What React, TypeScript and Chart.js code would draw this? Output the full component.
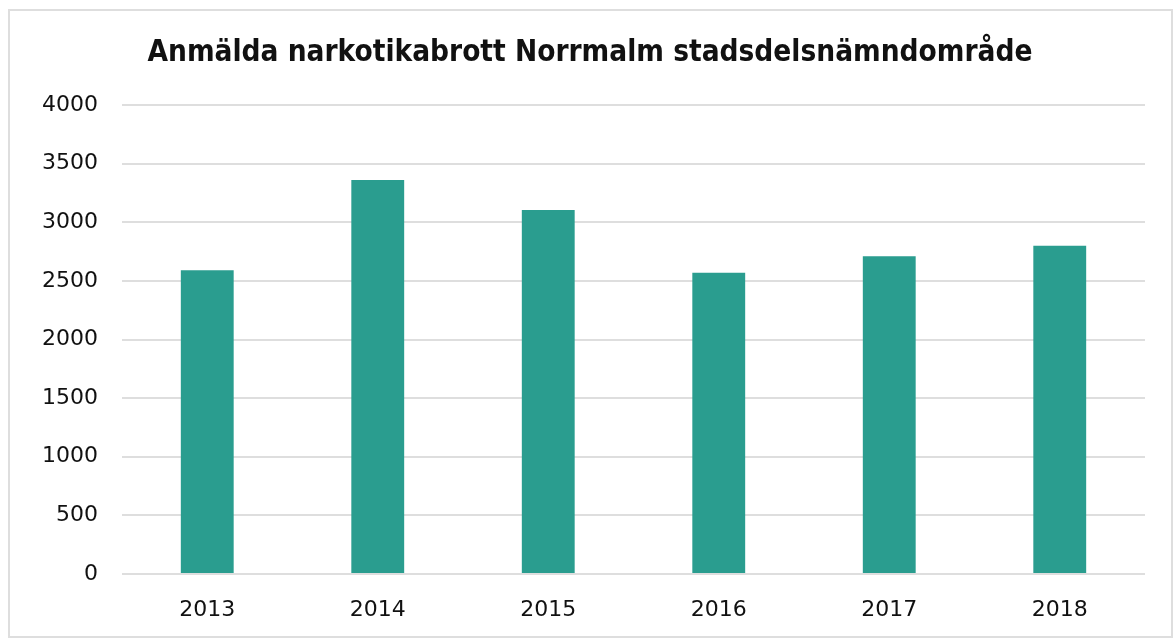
import React, { useEffect, useRef } from "react";
import { Chart, registerables } from "chart.js";

Chart.register(...registerables);

const categories = ["2013", "2014", "2015", "2016", "2017", "2018"];
const reportedCrimes = [2590, 3360, 3105, 2570, 2710, 2800];
const titleText = "Anmälda narkotikabrott Norrmalm stadsdelsnämndområde";
const yMin = 0;
const yMax = 4000;
const yStep = 500;

const titlePlugin = {
  id: "customTitle",
  afterDraw(chart: any) {
    const ctx = chart.ctx;
    ctx.save();
    ctx.font = "bold 29.5px 'DejaVu Sans Condensed', 'DejaVu Sans'";
    ctx.fillStyle = "#111111";
    ctx.textAlign = "center";
    ctx.textBaseline = "alphabetic";
    ctx.fillText(titleText, 590, 61);
    ctx.restore();
  },
};

export default function App() {
  const ref = useRef<HTMLCanvasElement | null>(null);

  useEffect(() => {
    if (!ref.current) return;
    const chart = new Chart(ref.current, {
      type: "bar",
      data: {
        labels: categories,
        datasets: [
          {
            label: "Anmälda narkotikabrott",
            data: reportedCrimes,
            backgroundColor: "#2a9d8f",
            borderWidth: 0,
            categoryPercentage: 1,
            barPercentage: 0.31,
          },
        ],
      },
      plugins: [titlePlugin],
      options: {
        animation: false,
        responsive: false,
        maintainAspectRatio: false,
        layout: { padding: { left: 0, right: 31, top: 105, bottom: 0 } },
        plugins: {
          legend: { display: false },
          tooltip: { enabled: false },
          title: { display: false },
        },
        scales: {
          x: {
            grid: { display: false, drawTicks: false },
            border: { display: false },
            ticks: {
              color: "#111111",
              padding: 23,
              font: { family: "DejaVu Sans", size: 22, weight: "normal" },
            },
            afterFit: (scale: any) => {
              scale.height = 65;
            },
          },
          y: {
            min: yMin,
            max: yMax,
            grid: { color: "#dedede", lineWidth: 2, drawTicks: false },
            border: { display: false },
            ticks: {
              stepSize: yStep,
              color: "#111111",
              padding: 24,
              font: { family: "DejaVu Sans", size: 22, weight: "normal" },
              callback: (v: any) => String(v),
            },
            afterFit: (scale: any) => {
              scale.width = 122;
            },
          },
        },
      },
    });
    return () => chart.destroy();
  }, []);

  return (
    <div
      style={{
        position: "fixed",
        left: 0,
        top: 0,
        width: 1176,
        height: 639,
        background: "#ffffff",
      }}
    >
      <div
        style={{
          position: "absolute",
          left: 8,
          top: 9,
          width: 1161,
          height: 625,
          border: "2px solid #dedede",
        }}
      />
      <canvas
        ref={ref}
        width={1176}
        height={639}
        style={{ position: "absolute", left: 0, top: 0, width: 1176, height: 639 }}
      />
    </div>
  );
}
